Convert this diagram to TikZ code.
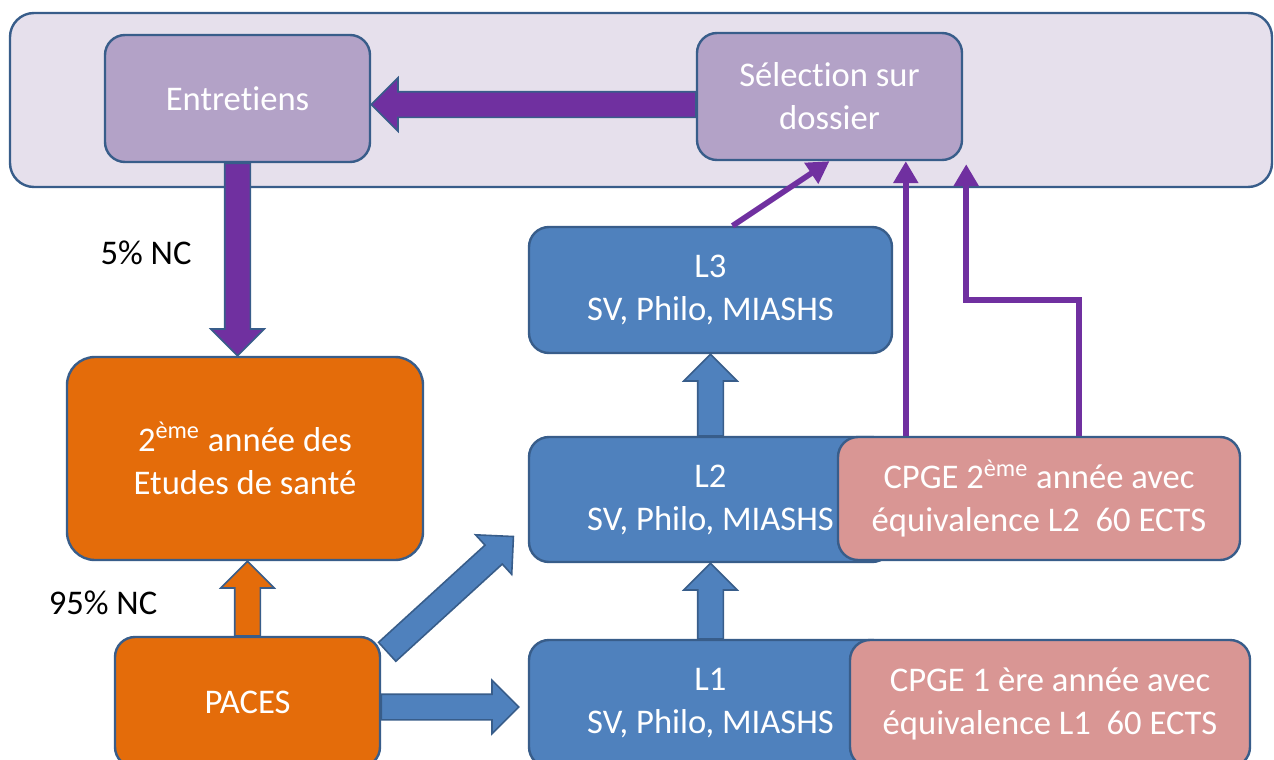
\documentclass[tikz,border=0pt]{standalone}
\usepackage{fontspec}
\setmainfont[Ligatures=NoCommon]{Carlito}
\usetikzlibrary{arrows.meta,shapes.arrows,calc}
\definecolor{edgeblue}{HTML}{385D8A}
\definecolor{framefill}{HTML}{E6E0EC}
\definecolor{lilac}{HTML}{B3A2C7}
\definecolor{violet}{HTML}{7030A0}
\definecolor{pumpkin}{HTML}{E46C0A}
\definecolor{steel}{HTML}{4F81BD}
\definecolor{rose}{HTML}{D99694}
\tikzset{
  box/.style={rectangle,rounded corners=10pt,draw=edgeblue,line width=1.2pt,
    text=white,align=center,inner sep=0pt},
  bigarrow/.style={single arrow,draw=edgeblue,line width=0.8pt,inner xsep=0pt,inner ysep=6pt,
    outer sep=0pt,single arrow head extend=7pt,sloped,allow upside down},
  thinarrow/.style={draw=violet,line width=2.8pt,-{Triangle[width=12pt,length=11pt]}}
}
% block arrow from #2 to #3
\newcommand\blockarrow[3][]{\path let \p1=(#2), \p2=(#3), \n1={veclen(\x2-\x1,\y2-\y1)} in
  (\p1) -- node[bigarrow,pos=0,anchor=tail,minimum height=\n1,#1]{} (\p2);}
\begin{document}
\begin{tikzpicture}[x=0.5pt,y=-0.5pt,font=\fontsize{17.3}{21.5}\selectfont]
  \useasboundingbox (0,0) rectangle (1274,760);
  \fill[white] (0,0) rectangle (1274,760);
  \draw[draw=edgeblue,fill=framefill,line width=1.2pt,rounded corners=12pt] (10,13) rectangle (1272,187);

  \path (237.5,98.5) node[box,fill=lilac,minimum width=132.5pt,minimum height=63.5pt](ent){Entretiens};
  \path (829.5,96.5) node[box,fill=lilac,minimum width=132.5pt,minimum height=63.5pt](sel){Sélection sur\\dossier};
  \path (245,458.5) node[box,fill=pumpkin,minimum width=178pt,minimum height=101.5pt,rounded corners=14pt](sante){2\textsuperscript{ème} année des\\Etudes de santé};
  \path (247.5,702) node[box,fill=pumpkin,minimum width=132.5pt,minimum height=65pt](paces){PACES};
  \path (710.5,290) node[box,fill=steel,minimum width=181.5pt,minimum height=63pt](l3){L3\\SV, Philo, MIASHS};
  \path (710.5,499.5) node[box,fill=steel,minimum width=181.5pt,minimum height=62.5pt](l2){L2\\SV, Philo, MIASHS};
  \path (710.5,703.5) node[box,fill=steel,minimum width=181.5pt,minimum height=63.5pt](l1){L1\\SV, Philo, MIASHS};
  \path (1039,498.5) node[box,fill=rose,minimum width=201pt,minimum height=61.5pt](cpge2){CPGE 2\textsuperscript{ème} année avec\\équivalence L2~~60 ECTS};
  \path (1050,703.5) node[box,fill=rose,minimum width=200pt,minimum height=63.5pt](cpge1){CPGE 1 ère année avec\\équivalence L1~~60 ECTS};

  \path (146,253) node(nc5){5\% NC};
  \path (103,603) node(nc95){95\% NC};

  \coordinate (s1) at ($(sel.west)+(0,8)$);
  \blockarrow[fill=violet]{s1}{s1 -| ent.east}
  \blockarrow[fill=violet]{ent.south}{ent.south |- sante.north}
  \blockarrow[fill=pumpkin]{paces.north}{paces.north |- sante.south}
  \blockarrow[fill=steel]{l2.north}{l2.north |- l3.south}
  \blockarrow[fill=steel]{l1.north}{l1.north |- l2.south}
  \coordinate (p1) at ($(paces.east)+(0,5)$);
  \coordinate (p2) at ($(p1 -| l1.west)+(-9,0)$);
  \blockarrow[fill=steel]{p1}{p2}
  \coordinate (d1) at ($(paces.north east)+(6,16)$);
  \coordinate (d2) at ($(l2.south west)+(-14,-27)$);
  \blockarrow[fill=steel]{d1}{d2}

  \coordinate (t1) at ($(l3.north)+(22,0)$);
  \draw[thinarrow] (t1) -- (sel.south);
  \coordinate (c1) at ($(cpge2.north west)+(69,0)$);
  \draw[thinarrow] (c1) -- (c1 |- sel.south);
  \coordinate (c2) at ($(cpge2.north west)+(242,0)$);
  \coordinate (c3) at ($(sel.south east)+(3,3)$);
  \draw[thinarrow] (c2) -- (c2 |- 0,300) -| (c3);
\end{tikzpicture}
\end{document}
